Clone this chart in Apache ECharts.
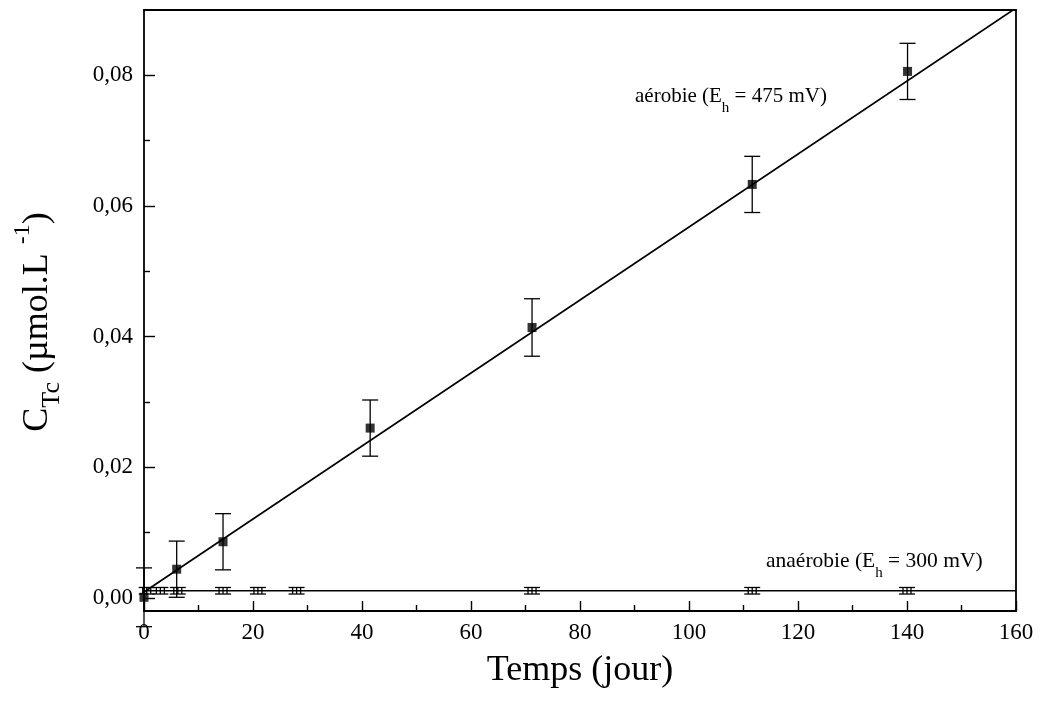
<!DOCTYPE html>
<html><head><meta charset="utf-8">
<script src="https://cdn.jsdelivr.net/npm/echarts@6/dist/echarts.min.js"></script>
<style>html,body{margin:0;padding:0;background:#fff}#c{width:1040px;height:704px}</style>
</head><body><div id="c"></div>
<script>
// ---- data ----
const yMajorTicks = [0, 0.02, 0.04, 0.06, 0.08];
const yMinorTicks = [0.01, 0.03, 0.05, 0.07];
// aerobic (Eh = 475 mV)
const aerX = [0, 6, 14.5, 41.5, 71.2, 111.6, 140.1];
const aerY = [0.0001, 0.0044, 0.0086, 0.0260, 0.0414, 0.0633, 0.0806];
const aerErr = [0.0045, 0.0043, 0.0043, 0.0043, 0.0044, 0.0043, 0.0043];
const aerFitX = [0, 160];
const aerFitY = [0.0009, 0.0903];
// anaerobic (Eh = 300 mV)
const anaX = [0.5, 3, 6.2, 14.5, 20.9, 28, 71.2, 111.6, 140];
const anaY = [0.0011, 0.0011, 0.0011, 0.0011, 0.0011, 0.0011, 0.0011, 0.0011, 0.0011];
const anaErr = [0.0005, 0.0005, 0.0005, 0.0005, 0.0005, 0.0005, 0.0005, 0.0005, 0.0005];
const anaFitX = [0, 160];
const anaFitY = [0.0011, 0.0011];

const FONT = "'Liberation Serif', 'Times New Roman', serif";
const chart = echarts.init(document.getElementById('c'), null, {renderer: 'canvas'});

const aerData = aerX.map((x, i) => [x, aerY[i], aerErr[i]]);
const anaData = anaX.map((x, i) => [x, anaY[i], anaErr[i]]);
const zip = (a, b) => a.map((v, i) => [v, b[i]]);

function errRender(capW, inner) {
  return function (params, api) {
    const x = api.value(0), y = api.value(1), e = api.value(2);
    const t = api.coord([x, y + e]), b = api.coord([x, y - e]);
    const h = capW / 2;
    const st = {stroke: '#000', lineWidth: 1.3};
    const ch = [
      {type: 'line', shape: {x1: t[0] - h, y1: t[1], x2: t[0] + h, y2: t[1]}, style: st},
      {type: 'line', shape: {x1: b[0] - h, y1: b[1], x2: b[0] + h, y2: b[1]}, style: st}
    ];
    inner.forEach(o => ch.push({type: 'line', shape: {x1: t[0] + o, y1: t[1], x2: b[0] + o, y2: b[1]}, style: st}));
    return {type: 'group', children: ch};
  };
}

const tickLabelStyle = {color: '#000', fontFamily: FONT, fontSize: 23};
const axisLineStyle = {lineStyle: {color: '#000', width: 1.8}};

chart.setOption({
  animation: false,
  backgroundColor: '#fff',
  grid: {left: 144, right: 24, top: 10, bottom: 93},
  xAxis: [
    {
      type: 'value', min: 0, max: 160, interval: 20, position: 'bottom',
      axisLine: {show: true, onZero: false, ...axisLineStyle},
      axisTick: {show: true, inside: true, length: 10, lineStyle: {color: '#000', width: 1.4}},
      minorTick: {show: true, splitNumber: 2, length: 6, lineStyle: {color: '#000', width: 1.4}},
      axisLabel: {...tickLabelStyle, margin: 10},
      splitLine: {show: false}, minorSplitLine: {show: false},
      name: 'Temps (jour)', nameLocation: 'middle', nameGap: 42,
      nameTextStyle: {color: '#000', fontFamily: FONT, fontSize: 36}
    },
    {
      type: 'value', min: 0, max: 160, position: 'top',
      axisLine: {show: true, onZero: false, ...axisLineStyle},
      axisTick: {show: false}, axisLabel: {show: false}, splitLine: {show: false}
    }
  ],
  yAxis: [
    {
      type: 'value', min: -0.002, max: 0.09, position: 'left',
      axisLine: {show: true, onZero: false, ...axisLineStyle},
      axisTick: {show: true, inside: true, length: 11, customValues: yMajorTicks, lineStyle: {color: '#000', width: 1.4}},
      axisLabel: {...tickLabelStyle, margin: 11, customValues: yMajorTicks,
        formatter: v => v.toFixed(2).replace('.', ',')},
      splitLine: {show: false}
    },
    {
      type: 'value', min: -0.002, max: 0.09, position: 'left',
      axisLine: {show: false},
      axisTick: {show: true, inside: true, length: 6, customValues: yMinorTicks, lineStyle: {color: '#000', width: 1.4}},
      axisLabel: {show: false}, splitLine: {show: false}
    },
    {
      type: 'value', min: -0.002, max: 0.09, position: 'right',
      axisLine: {show: true, onZero: false, ...axisLineStyle},
      axisTick: {show: false}, axisLabel: {show: false}, splitLine: {show: false}
    }
  ],
  series: [
    {type: 'line', data: zip(aerFitX, aerFitY), showSymbol: false, symbol: 'none',
     lineStyle: {color: '#000', width: 1.7}, clip: true, z: 2},
    {type: 'line', data: zip(anaFitX, anaFitY), showSymbol: false, symbol: 'none',
     lineStyle: {color: '#000', width: 1.7}, clip: true, z: 2},
    {type: 'custom', data: aerData, renderItem: errRender(16, [0]), clip: false, z: 3,
     encode: {x: 0, y: 1}},
    {type: 'custom', data: anaData, renderItem: errRender(16, [-4, 0, 4]), clip: false, z: 3,
     encode: {x: 0, y: 1}},
    {type: 'scatter', data: zip(aerX, aerY), symbol: 'rect', symbolSize: 9,
     itemStyle: {color: '#000'}, clip: false, z: 4}
  ],
  graphic: [
    {
      type: 'text', x: 635, y: 96, z: 10,
      style: {
        text: '{n|aérobie (E}{s|h}{n| = 475 mV)}',
        align: 'left', verticalAlign: 'middle', fill: '#000',
        rich: {
          n: {fontFamily: FONT, fontSize: 21, lineHeight: 40, fill: '#000'},
          s: {fontFamily: FONT, fontSize: 15, lineHeight: 14, verticalAlign: 'bottom', fill: '#000'}
        }
      }
    },
    {
      type: 'text', x: 766, y: 561, z: 10,
      style: {
        text: '{n|anaérobie (E}{s|h}{n| = 300 mV)}',
        align: 'left', verticalAlign: 'middle', fill: '#000',
        rich: {
          n: {fontFamily: FONT, fontSize: 21.5, lineHeight: 40, fill: '#000'},
          s: {fontFamily: FONT, fontSize: 15, lineHeight: 14, verticalAlign: 'bottom', fill: '#000'}
        }
      }
    },
    {
      type: 'text', x: 38, y: 322, rotation: Math.PI / 2, z: 10,
      style: {
        text: '{n|C}{s|Tc}{n| (µmol.L }{p|-1}{n|)}',
        align: 'center', verticalAlign: 'middle', fill: '#000',
        rich: {
          n: {fontFamily: FONT, fontSize: 36, lineHeight: 54, fill: '#000'},
          s: {fontFamily: FONT, fontSize: 26, lineHeight: 24, verticalAlign: 'bottom', fill: '#000'},
          p: {fontFamily: FONT, fontSize: 24, lineHeight: 24, verticalAlign: 'top', fill: '#000'}
        }
      }
    }
  ]
});
</script>
</body></html>
